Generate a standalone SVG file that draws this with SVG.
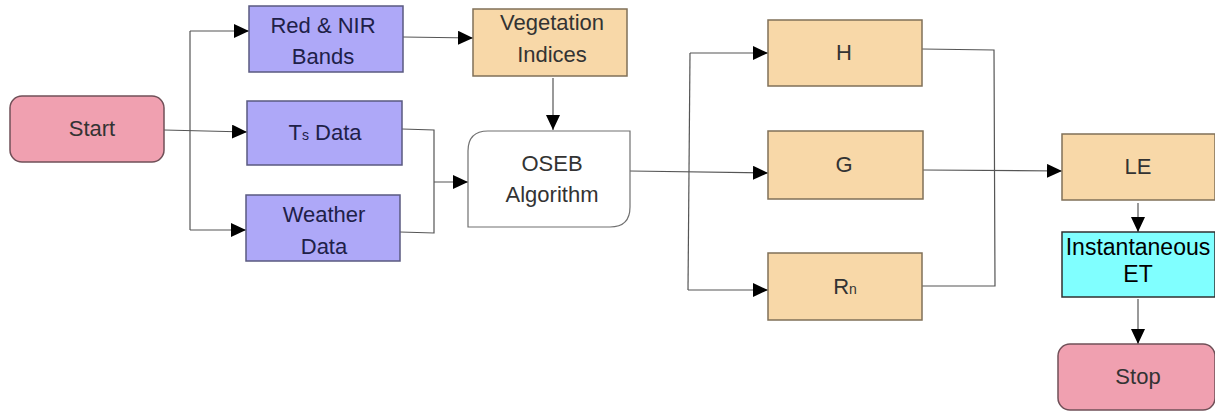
<svg xmlns="http://www.w3.org/2000/svg" width="1215" height="411" viewBox="0 0 1215 411">
<defs>
<marker id="arr" viewBox="0 0 15 14" refX="15" refY="7" markerWidth="15" markerHeight="14" markerUnits="userSpaceOnUse" orient="auto">
<path d="M0,0 L15,7 L0,14 Z" fill="#000"/>
</marker>
</defs>
<style>
.term{fill:#f0a0b0;stroke:#705058;stroke-width:1.5}
.inp{fill:#aea8f8;stroke:#5a5a80;stroke-width:1.5}
.proc{fill:#f8d8a8;stroke:#807058;stroke-width:1.5}
.alg{fill:#fff;stroke:#707070;stroke-width:1.2}
.et{fill:#80ffff;stroke:#303030;stroke-width:1.5}
text{font-family:"Liberation Sans",Arial,sans-serif;font-size:22px;text-anchor:middle;fill:#333}
.dk{fill:#202048}
.cn{fill:none;stroke:#555;stroke-width:1.2}
.ca{fill:none;stroke:#555;stroke-width:1.2;marker-end:url(#arr)}
</style>
<g id="connectors">
<path class="ca" d="M164,130 L247,132"/>
<path class="cn" d="M190,31 L190,230"/>
<path class="ca" d="M190,31 L249,31"/>
<path class="ca" d="M190,230 L246,230"/>
<path class="ca" d="M403,37 L473,38"/>
<path class="ca" d="M553,78 L553,130"/>
<path class="cn" d="M402,129 L434,130 L434,233 L400,232"/>
<path class="ca" d="M434,182 L468,182"/>
<path class="ca" d="M630,171 L768,173"/>
<path class="cn" d="M690,53 L688,290"/>
<path class="ca" d="M690,53 L768,53"/>
<path class="ca" d="M688,290 L768,290"/>
<path class="cn" d="M922,49 L994,50 L995,286 L922,286"/>
<path class="ca" d="M923,170 L1062,171"/>
<path class="ca" d="M1138,203 L1138,232"/>
<path class="ca" d="M1138,299 L1138,344"/>
</g>
<g id="start"><rect class="term" x="10" y="96" width="154" height="66" rx="12"/><text x="92" y="136">Start</text></g>
<g id="rednir"><rect class="inp" x="249" y="6" width="154" height="66"/><text class="dk" x="323" y="33">Red &amp; NIR</text><text class="dk" x="323" y="64">Bands</text></g>
<g id="ts"><rect class="inp" x="247" y="101" width="155" height="64"/><text class="dk" x="325" y="140">T<tspan font-size="14">s</tspan> Data</text></g>
<g id="weather"><rect class="inp" x="246" y="195" width="154" height="66"/><text class="dk" x="324" y="222">Weather</text><text class="dk" x="324" y="254">Data</text></g>
<g id="veg"><rect class="proc" x="473" y="9" width="154" height="67"/><text x="552" y="30">Vegetation</text><text x="552" y="62">Indices</text></g>
<g id="oseb"><path class="alg" d="M488,131 L630,131 L630,207 Q630,227 610,227 L468,227 L468,151 Q468,131 488,131 Z"/><text x="552" y="171">OSEB</text><text x="552" y="202">Algorithm</text></g>
<g id="h"><rect class="proc" x="768" y="20" width="154" height="66"/><text x="844" y="60">H</text></g>
<g id="g"><rect class="proc" x="768" y="131" width="155" height="68"/><text x="844" y="172">G</text></g>
<g id="rn"><rect class="proc" x="768" y="253" width="154" height="67"/><text x="845" y="294">R<tspan font-size="14">n</tspan></text></g>
<g id="le"><rect class="proc" x="1062" y="134" width="153" height="66"/><text x="1138" y="174">LE</text></g>
<g id="inst"><rect class="et" x="1062" y="232" width="153" height="65"/><text x="1138" y="255" style="font-size:23px;fill:#000">Instantaneous</text><text x="1138" y="282" style="font-size:23px;fill:#000">ET</text></g>
<g id="stop"><rect class="term" x="1058" y="344" width="157" height="66" rx="12"/><text x="1138" y="384">Stop</text></g>
</svg>
